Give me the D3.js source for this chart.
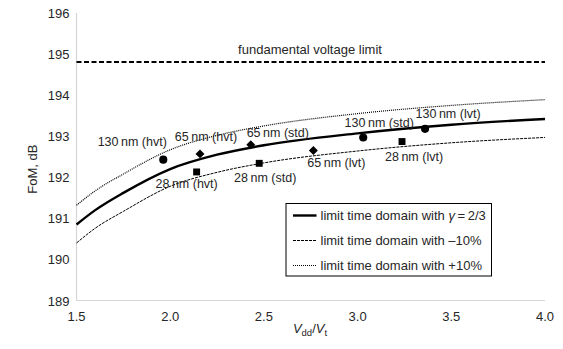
<!DOCTYPE html>
<html>
<head>
<meta charset="utf-8">
<script src="https://cdn.jsdelivr.net/npm/d3@7"></script>
<style>
  body { margin: 0; background: #fff; }
  text { font-family: "Liberation Sans", Arial, Helvetica, sans-serif; fill: #262626; }
</style>
</head>
<body>
<div id="chart"></div>
<script>
// curve samples (Vdd/Vt -> FoM dB)
const curveX = [1.5, 1.6, 1.75, 2.0, 2.25, 2.5, 3.0, 3.5, 4.0];
const limitNominal = [190.85, 191.2, 191.62, 192.2, 192.55, 192.78, 193.07, 193.28, 193.42];
const limitMinus10 = [190.40, 190.76, 191.17, 191.78, 192.12, 192.35, 192.64, 192.84, 192.97];
const limitPlus10 = [191.32, 191.67, 192.08, 192.67, 193.02, 193.25, 193.55, 193.75, 193.89];

const fundamentalLimit = 194.81;

// measured designs
const pointLabels = ['130 nm (hvt)', '130 nm (std)', '130 nm (lvt)',
                     '65 nm (hvt)', '65 nm (std)', '65 nm (lvt)',
                     '28 nm (hvt)', '28 nm (std)', '28 nm (lvt)'];
const pointShapes = ['circle', 'circle', 'circle',
                     'diamond', 'diamond', 'diamond',
                     'square', 'square', 'square'];
const pointX = [1.963, 3.03, 3.36, 2.159, 2.43, 2.764, 2.141, 2.475, 3.237];
const pointY = [192.43, 192.97, 193.18, 192.57, 192.79, 192.65, 192.13, 192.34, 192.87];
// label placement relative to its marker (px)
const labelDx = [-31, 16, 23, 6, 27, 23, -10, 6, 12];
const labelDy = [-14, -10, -11, -13, -8, 16, 16, 19, 19];

const xTicks = [1.5, 2.0, 2.5, 3.0, 3.5, 4.0];
const yTicks = [189, 190, 191, 192, 193, 194, 195, 196];

const legendItems = ['nominal', 'minus', 'plus'];

const width = 563, height = 349;
const margin = { left: 76.5, right: 18, top: 13, bottom: 48.5 };

const svg = d3.select('#chart').append('svg')
    .attr('width', width)
    .attr('height', height);

const x = d3.scaleLinear().domain([1.5, 4.0]).range([margin.left, width - margin.right]);
const y = d3.scaleLinear().domain([189, 196]).range([height - margin.bottom, margin.top]);

// axes: thin grey lines, no tick marks
svg.append('line')
    .attr('x1', x(1.5)).attr('x2', x(1.5))
    .attr('y1', y(196)).attr('y2', y(189))
    .attr('stroke', '#d6d6d6').attr('stroke-width', 1.2);
svg.append('line')
    .attr('x1', x(1.5)).attr('x2', x(4.0))
    .attr('y1', y(189)).attr('y2', y(189))
    .attr('stroke', '#d6d6d6').attr('stroke-width', 1.2);

svg.append('g').selectAll('text')
    .data(yTicks)
    .enter().append('text')
    .attr('x', x(1.5) - 7)
    .attr('y', d => y(d) + 5)
    .attr('text-anchor', 'end')
    .style('font-size', '13px')
    .text(d => d);

svg.append('g').selectAll('text')
    .data(xTicks)
    .enter().append('text')
    .attr('x', d => x(d))
    .attr('y', y(189) + 20)
    .attr('text-anchor', 'middle')
    .style('font-size', '13px')
    .text(d => d3.format('.1f')(d));

// axis titles
svg.append('text')
    .attr('transform', `translate(37, ${y(192.2)}) rotate(-90)`)
    .attr('text-anchor', 'middle')
    .style('font-size', '13px')
    .text('FoM, dB');

const xTitle = svg.append('text')
    .attr('x', 310)
    .attr('y', height - 16)
    .attr('text-anchor', 'middle')
    .style('font-size', '13px');
xTitle.append('tspan').style('font-style', 'italic').text('V');
xTitle.append('tspan').attr('dy', 3).style('font-size', '9.5px').text('dd');
xTitle.append('tspan').attr('dy', -3).text('/');
xTitle.append('tspan').style('font-style', 'italic').text('V');
xTitle.append('tspan').attr('dy', 3).style('font-size', '9.5px').text('t');

// fundamental voltage limit
svg.append('line')
    .attr('x1', x(1.5)).attr('x2', x(4.0))
    .attr('y1', y(fundamentalLimit)).attr('y2', y(fundamentalLimit))
    .attr('stroke', '#000')
    .attr('stroke-width', 2)
    .attr('stroke-dasharray', '5,2.5');
svg.append('text')
    .attr('x', 310)
    .attr('y', y(fundamentalLimit) - 8)
    .attr('text-anchor', 'middle')
    .style('font-size', '13px')
    .text('fundamental voltage limit');

// limit curves
const lineStyles = {
    nominal: { width: 2.4, dash: null },
    minus: { width: 1, dash: '3,1' },
    plus: { width: 1.2, dash: '1,1' }
};
const curveSeries = { nominal: limitNominal, minus: limitMinus10, plus: limitPlus10 };

const line = d3.line()
    .x(d => x(d[0]))
    .y(d => y(d[1]))
    .curve(d3.curveMonotoneX);

Object.keys(curveSeries).forEach(key => {
    const pts = curveX.map((v, i) => [v, curveSeries[key][i]]);
    svg.append('path')
        .datum(pts)
        .attr('fill', 'none')
        .attr('stroke', '#000')
        .attr('stroke-width', lineStyles[key].width)
        .attr('stroke-dasharray', lineStyles[key].dash)
        .attr('d', line);
});

// markers (diamond = square turned 45deg, like the original)
const symbolTypes = {
    circle: d3.symbol().type(d3.symbolCircle).size(52),
    square: d3.symbol().type(d3.symbolSquare).size(48),
    diamond: d3.symbol().type(d3.symbolSquare).size(40)
};

const points = pointLabels.map((label, i) => ({
    label, shape: pointShapes[i], x: pointX[i], y: pointY[i], dx: labelDx[i], dy: labelDy[i]
}));

svg.append('g').selectAll('path')
    .data(points)
    .enter().append('path')
    .attr('transform', d => `translate(${x(d.x)},${y(d.y)})` + (d.shape === 'diamond' ? ' rotate(45)' : ''))
    .attr('d', d => symbolTypes[d.shape]())
    .attr('fill', '#000');

svg.append('g').selectAll('text')
    .data(points)
    .enter().append('text')
    .attr('x', d => x(d.x) + d.dx)
    .attr('y', d => y(d.y) + d.dy)
    .attr('text-anchor', 'middle')
    .style('font-size', '12.5px')
    .text(d => d.label.replace(' nm', '\u2009nm'));

// legend
const legend = svg.append('g').attr('transform', 'translate(286, 203.5)');
legend.append('rect')
    .attr('width', 205.5)
    .attr('height', 72.5)
    .attr('fill', '#fff')
    .attr('stroke', '#000')
    .attr('stroke-width', 1);

legendItems.forEach((key, i) => {
    const row = legend.append('g').attr('transform', `translate(0, ${12 + i * 25})`);
    row.append('line')
        .attr('x1', 7).attr('x2', 30.5)
        .attr('y1', 0).attr('y2', 0)
        .attr('stroke', '#000')
        .attr('stroke-width', lineStyles[key].width)
        .attr('stroke-dasharray', lineStyles[key].dash);
    const t = row.append('text')
        .attr('x', 34.5)
        .attr('y', 4.5)
        .style('font-size', '13px');
    if (key === 'nominal') {
        t.append('tspan').text('limit time domain with ');
        t.append('tspan').style('font-style', 'italic').text('\u03b3');
        t.append('tspan').text('\u2009=\u20092/3');
    } else if (key === 'minus') {
        t.text('limit time domain with \u201310%');
    } else {
        t.text('limit time domain with +10%');
    }
});
</script>
</body>
</html>
